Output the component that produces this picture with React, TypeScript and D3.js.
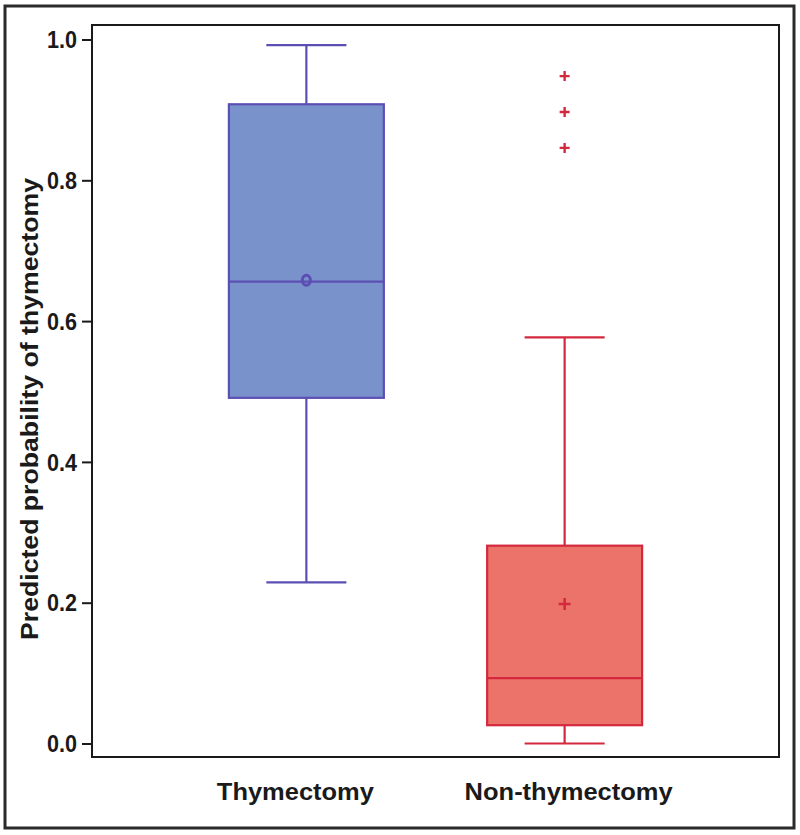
import React, { useEffect, useRef } from 'react';
import * as d3 from 'd3';

// box summary per group
const groups = ['Thymectomy', 'Non-thymectomy'];
const q1 = [0.491, 0.026];
const median = [0.656, 0.093];
const q3 = [0.908, 0.281];
const whiskerLow = [0.229, 0.0];
const whiskerHigh = [0.992, 0.577];
const means = [0.658, 0.198];
const outliers: number[][] = [[], [0.948, 0.897, 0.846]];
const yTicks = [0.0, 0.2, 0.4, 0.6, 0.8, 1.0];

const strokes = ['#5b4fb3', '#d3283d'];
const fills = ['#7a92cb', '#ec7369'];

const App: React.FC = () => {
  const svgRef = useRef<SVGSVGElement>(null);

  useEffect(() => {
    if (!svgRef.current) return;
    document.body.style.margin = '0';
    const svg = d3.select(svgRef.current);
    svg.selectAll('*').remove();

    const plot = { left: 92, right: 779, top: 25, bottom: 757 };
    const font = '"Liberation Sans", Arial, Helvetica, sans-serif';

    const x = d3.scalePoint<string>()
      .domain(groups)
      .range([plot.left, plot.right])
      .padding(0.83);
    const step = x.step();
    const boxW = step * 0.6;
    const capW = step * 0.31;

    const y = d3.scaleLinear().domain([0, 1]).range([743.5, 39.5]);

    // outer frame
    svg.append('rect')
      .attr('x', 5).attr('y', 6).attr('width', 789).attr('height', 822)
      .attr('fill', 'white').attr('stroke', '#2a2a2a').attr('stroke-width', 3);

    // plot frame
    svg.append('rect')
      .attr('x', plot.left).attr('y', plot.top)
      .attr('width', plot.right - plot.left).attr('height', plot.bottom - plot.top)
      .attr('fill', 'none').attr('stroke', '#1a1a1a').attr('stroke-width', 2);

    // y axis
    const yAxis = svg.append('g')
      .attr('transform', `translate(${plot.left},0)`)
      .call(d3.axisLeft(y).tickValues(yTicks).tickFormat(d3.format('.1f')).tickSize(10).tickPadding(5));
    yAxis.select('.domain').remove();
    yAxis.selectAll('.tick line').attr('stroke', '#1a1a1a').attr('stroke-width', 2);
    yAxis.selectAll('.tick text')
      .attr('font-family', font).attr('font-size', 23).attr('font-weight', 'bold')
      .attr('fill', '#1a1a1a').attr('dy', '0.36em')
      .attr('textLength', 30).attr('lengthAdjust', 'spacingAndGlyphs');

    svg.append('text')
      .attr('transform', `translate(38,${(plot.top + plot.bottom) / 2 + 18}) rotate(-90)`)
      .attr('text-anchor', 'middle')
      .attr('font-family', font).attr('font-size', 23).attr('font-weight', 'bold')
      .attr('fill', '#1a1a1a')
      .attr('textLength', 462).attr('lengthAdjust', 'spacingAndGlyphs')
      .text('Predicted probability of thymectomy');

    // x labels
    const xLens = [157, 208];
    groups.forEach((g, i) => {
      svg.append('text')
        .attr('x', (x(g) as number) - (i === 0 ? 11 : -4)).attr('y', 800)
        .attr('text-anchor', 'middle')
        .attr('font-family', font).attr('font-size', 23).attr('font-weight', 'bold')
        .attr('fill', '#1a1a1a')
        .attr('textLength', xLens[i]).attr('lengthAdjust', 'spacingAndGlyphs')
        .text(g);
    });

    groups.forEach((g, i) => {
      const cx = x(g) as number;
      const grp = svg.append('g')
        .attr('stroke', strokes[i]).attr('stroke-width', 2.2).attr('fill', 'none');

      // whiskers
      grp.append('line')
        .attr('x1', cx).attr('x2', cx).attr('y1', y(q3[i])).attr('y2', y(whiskerHigh[i]));
      grp.append('line')
        .attr('x1', cx).attr('x2', cx).attr('y1', y(q1[i])).attr('y2', y(whiskerLow[i]));
      [whiskerLow[i], whiskerHigh[i]].forEach(v => {
        grp.append('line')
          .attr('x1', cx - capW / 2).attr('x2', cx + capW / 2)
          .attr('y1', y(v)).attr('y2', y(v));
      });

      // box
      grp.append('rect')
        .attr('x', cx - boxW / 2).attr('width', boxW)
        .attr('y', y(q3[i])).attr('height', y(q1[i]) - y(q3[i]))
        .attr('fill', fills[i]);
      grp.append('line')
        .attr('x1', cx - boxW / 2).attr('x2', cx + boxW / 2)
        .attr('y1', y(median[i])).attr('y2', y(median[i]));

      // mean
      if (i === 0) {
        grp.append('ellipse')
          .attr('cx', cx).attr('cy', y(means[i])).attr('rx', 4).attr('ry', 5)
          .attr('stroke-width', 3);
      } else {
        const s = 6;
        grp.append('path')
          .attr('d', `M${cx - s},${y(means[i])}H${cx + s}M${cx},${y(means[i]) - s}V${y(means[i]) + s}`)
          .attr('stroke-width', 2.5);
      }

      // outliers
      outliers[i].forEach(v => {
        const s = 5;
        grp.append('path')
          .attr('d', `M${cx - s},${y(v)}H${cx + s}M${cx},${y(v) - s}V${y(v) + s}`)
          .attr('stroke-width', 2.4);
      });
    });
  }, []);

  return (
    <svg ref={svgRef} width={800} height={835}
      style={{ position: 'absolute', left: 0, top: 0, display: 'block' }} />
  );
};

export default App;
